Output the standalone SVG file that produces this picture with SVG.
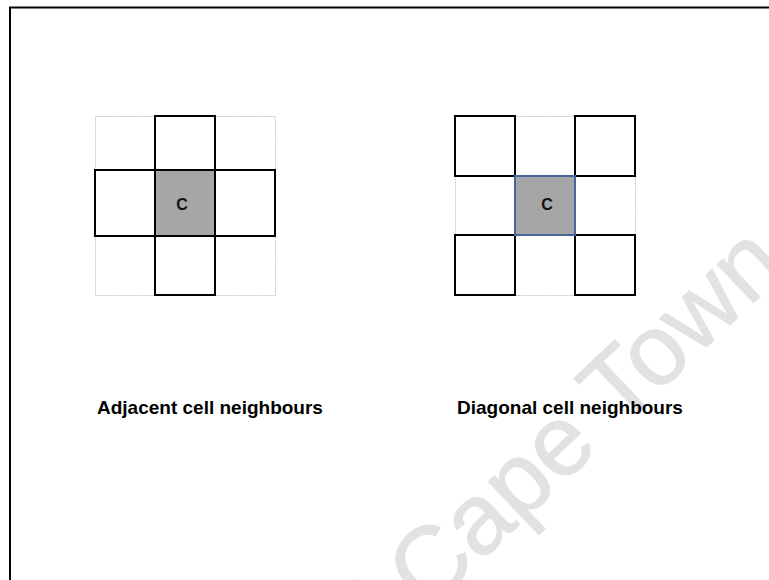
<svg xmlns="http://www.w3.org/2000/svg" width="769" height="580" viewBox="0 0 769 580">
  <style>
    .bg { fill: #ffffff; }
    .frame { fill: none; stroke: #000000; stroke-width: 2; }
    .bound { fill: none; stroke: #c8c8c8; stroke-width: 1; stroke-dasharray: 2 1; }
    .cell { fill: #ffffff; stroke: #000000; stroke-width: 2; }
    .centre { fill: #a6a6a6; stroke: #000000; stroke-width: 2; }
    .centre-blue { fill: #a6a6a6; stroke: #41679b; stroke-width: 2; }
    .mark { font-family: "Liberation Sans", Arial, sans-serif; font-weight: bold; font-size: 16px; fill: #111111; text-anchor: middle; }
    .caption { font-family: "Liberation Sans", Arial, sans-serif; font-weight: bold; font-size: 19px; fill: #000000; }
    .wm { font-family: "Liberation Sans", Arial, sans-serif; font-size: 100px; fill: #e2e2e2; stroke: #e2e2e2; stroke-width: 1; }
  </style>

  <rect class="bg" x="0" y="0" width="769" height="580"/>

  <!-- background watermark -->
  <text class="wm" transform="translate(346.5,689) rotate(-43.5)">of Cape Town</text>

  <!-- page frame (open to the right and bottom) -->
  <path class="frame" d="M10,581 V7.5 H770"/>

  <g id="connectors"/>

  <!-- adjacent neighbourhood -->
  <g id="adjacent">
    <rect class="bound" x="95.5" y="116.5" width="180" height="179"/>
    <g id="adj-top"><rect class="cell" x="155" y="116" width="60" height="54"/></g>
    <g id="adj-left"><rect class="cell" x="95" y="170" width="60" height="66"/></g>
    <g id="adj-right"><rect class="cell" x="215" y="170" width="60" height="66"/></g>
    <g id="adj-bottom"><rect class="cell" x="155" y="236" width="60" height="59"/></g>
    <g id="adj-centre">
      <rect class="centre" x="155" y="170" width="60" height="66"/>
      <text class="mark" x="182" y="210">C</text>
    </g>
    <text class="caption" x="97" y="414">Adjacent cell neighbours</text>
  </g>

  <!-- diagonal neighbourhood -->
  <g id="diagonal">
    <rect class="bound" x="455.5" y="116.5" width="180" height="179"/>
    <g id="diag-tl"><rect class="cell" x="455" y="116" width="60" height="60"/></g>
    <g id="diag-tr"><rect class="cell" x="575" y="116" width="60" height="60"/></g>
    <g id="diag-bl"><rect class="cell" x="455" y="235" width="60" height="60"/></g>
    <g id="diag-br"><rect class="cell" x="575" y="235" width="60" height="60"/></g>
    <g id="diag-centre">
      <rect class="centre-blue" x="515" y="176" width="60" height="59"/>
      <text class="mark" x="547" y="210">C</text>
    </g>
    <text class="caption" x="457" y="414">Diagonal cell neighbours</text>
  </g>
</svg>
